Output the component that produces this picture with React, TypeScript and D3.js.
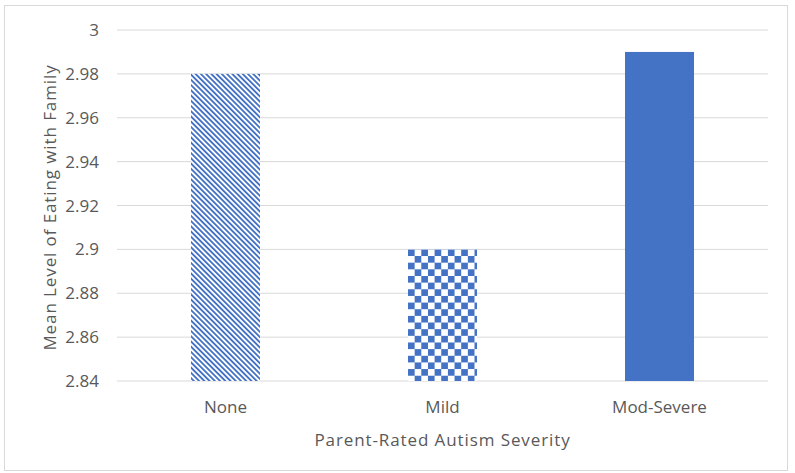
import React from "react";
import * as d3 from "d3";

const categories = ["None", "Mild", "Mod-Severe"];
const means = [2.98, 2.9, 2.99];
const yTicks = [2.84, 2.86, 2.88, 2.9, 2.92, 2.94, 2.96, 2.98, 3];
const fills = ["url(#diagStripes)", "url(#checker)", "#4472C4"];

const W = 795;
const H = 473;
const FONT = "'Open Sans', sans-serif";
const TEXT = "#595959";
const BLUE = "#4472C4";

export default function App() {
  const x = d3
    .scaleBand<string>()
    .domain(categories)
    .range([117, 768])
    .paddingInner(0.682)
    .paddingOuter(0.341);
  const y = d3.scaleLinear().domain([2.84, 3]).range([381, 30]);

  const mild = categories.indexOf("Mild");

  return (
    <div style={{ position: "absolute", left: 0, top: 0 }}>
      <svg width={W} height={H} style={{ display: "block", background: "#fff" }}>
        <defs>
          <pattern
            id="diagStripes"
            patternUnits="userSpaceOnUse"
            width={3.7}
            height={3.7}
            patternTransform="rotate(-45)"
          >
            <rect width={3.7} height={3.7} fill="#fff" />
            <rect width={1.85} height={3.7} fill={BLUE} />
          </pattern>
          <pattern
            id="checker"
            patternUnits="userSpaceOnUse"
            x={x(categories[mild])}
            y={y(means[mild])}
            width={13.3}
            height={13.3}
          >
            <rect width={13.3} height={13.3} fill="#fff" />
            <rect width={6.65} height={6.65} fill={BLUE} />
            <rect x={6.65} y={6.65} width={6.65} height={6.65} fill={BLUE} />
          </pattern>
        </defs>

        <rect x={4.5} y={5.5} width={783} height={465} fill="#fff" stroke="#D9D9D9" />

        {yTicks.map((t) => (
          <g key={t}>
            <line x1={117} x2={768} y1={y(t)} y2={y(t)} stroke="#D9D9D9" strokeWidth={1} />
            <text
              x={99}
              y={y(t)}
              dy="0.36em"
              textAnchor="end"
              fontFamily={FONT}
              fontSize={17}
              fill={TEXT}
            >
              {d3.format("~g")(t)}
            </text>
          </g>
        ))}

        {categories.map((c, i) => (
          <rect
            key={c}
            x={x(c)}
            y={y(means[i])}
            width={x.bandwidth()}
            height={y(2.84) - y(means[i])}
            fill={fills[i]}
          />
        ))}

        {categories.map((c) => (
          <text
            key={c}
            x={(x(c) ?? 0) + x.bandwidth() / 2}
            y={413}
            textAnchor="middle"
            fontFamily={FONT}
            fontSize={17}
            fill={TEXT}
          >
            {c}
          </text>
        ))}

        <text
          x={442.5}
          y={446}
          textAnchor="middle"
          fontFamily={FONT}
          fontSize={17}
          letterSpacing={0.9}
          fill={TEXT}
        >
          Parent-Rated Autism Severity
        </text>
        <text
          transform={`translate(56,207.5) rotate(-90)`}
          textAnchor="middle"
          fontFamily={FONT}
          fontSize={17}
          letterSpacing={0.9}
          fill={TEXT}
        >
          Mean Level of Eating with Family
        </text>
      </svg>
    </div>
  );
}
